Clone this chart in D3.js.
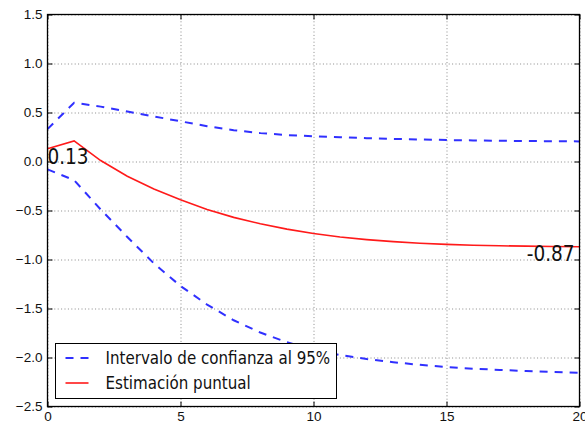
<!DOCTYPE html>
<meta charset="utf-8">
<style>
body{ margin: 0; background: #fff; }
svg{ display: block; font-family: "DejaVu Sans Condensed", "DejaVu Sans", sans-serif; font-stretch: condensed; }
.grid line{ stroke: #8a8a8a; stroke-width: 1; stroke-dasharray: 1,2.4; }
.grid path{ display: none; }
.ax path{ display: none; }
.ax line{ stroke: #000; }
.ax text{ font-size: 13.5px; fill: #111; }
</style>
<body>
<div id="chart"></div>
<script src="https://cdn.jsdelivr.net/npm/d3@7"></script>
<script>

// horizon (periods) and the three series
var steps = [0, 1, 2, 3, 4, 5, 6, 7, 8, 9, 10, 11, 12, 13, 14, 15, 16, 17, 18, 19, 20]
var upper = [0.33, 0.60, 0.56, 0.51, 0.46, 0.41, 0.36, 0.32, 0.29, 0.27, 0.257, 0.247, 0.238, 0.231, 0.225, 0.219, 0.215, 0.212, 0.209, 0.207, 0.205]
var estimate = [0.13, 0.21, 0.01, -0.15, -0.28, -0.39, -0.49, -0.57, -0.635, -0.69, -0.735, -0.77, -0.797, -0.818, -0.834, -0.846, -0.854, -0.86, -0.864, -0.867, -0.87]
var lower = [-0.08, -0.19, -0.49, -0.77, -1.04, -1.27, -1.46, -1.62, -1.745, -1.845, -1.92, -1.975, -2.015, -2.048, -2.075, -2.097, -2.114, -2.127, -2.138, -2.147, -2.155]

var xTicks = [0, 5, 10, 15, 20]
var yTicks = [-2.5, -2.0, -1.5, -1.0, -0.5, 0.0, 0.5, 1.0, 1.5]
var labels = ['Intervalo de confianza al 95%', 'Estimación puntual']

var W = 585, H = 428
var margin = {left: 47.5, top: 14.5, right: 5.5, bottom: 21.5}
var width = W - margin.left - margin.right
var height = H - margin.top - margin.bottom

var svg = d3.select('#chart').append('svg')
    .attr('width', W).attr('height', H)

var g = svg.append('g')
    .attr('transform', 'translate(' + margin.left + ',' + margin.top + ')')

var x = d3.scaleLinear().domain([0, 20]).range([0, width])
var y = d3.scaleLinear().domain([-2.5, 1.5]).range([height, 0])

// dotted grid
g.append('g').attr('class', 'grid')
    .attr('transform', 'translate(0,' + height + ')')
    .call(d3.axisBottom(x).tickValues(xTicks).tickSize(-height).tickFormat(''))
g.append('g').attr('class', 'grid')
    .call(d3.axisLeft(y).tickValues(yTicks).tickSize(-width).tickFormat(''))

// lines
var line = function(vals){
  return d3.line().x(function(d, i){ return x(steps[i]) }).y(function(d){ return y(d) })(vals)
}

g.append('path').attr('d', line(upper))
    .attr('fill', 'none').attr('stroke', '#3030ff').attr('stroke-width', 2)
    .attr('stroke-dasharray', '8,7')
g.append('path').attr('d', line(lower))
    .attr('fill', 'none').attr('stroke', '#3030ff').attr('stroke-width', 2)
    .attr('stroke-dasharray', '8,7')
g.append('path').attr('d', line(estimate))
    .attr('fill', 'none').attr('stroke', '#ff1a1a').attr('stroke-width', 1.6)

// value annotations at first and last step
g.append('text')
    .attr('x', x(steps[0]))
    .attr('y', y(estimate[0]) + 15)
    .style('font-size', '20.5px').style('fill', '#111')
    .text(d3.format('.2f')(estimate[0]))
g.append('text')
    .attr('x', x(steps[20]) - 5)
    .attr('y', y(estimate[20]) + 14)
    .attr('text-anchor', 'end')
    .style('font-size', '20.5px').style('fill', '#111')
    .text('-' + d3.format('.2f')(-estimate[20]))

// axes, ticks pointing inward on all four sides
var fmt = d3.format('.1f')
g.append('g').attr('class', 'ax')
    .attr('transform', 'translate(0,' + height + ')')
    .call(d3.axisBottom(x).tickValues(xTicks).tickSize(-5).tickPadding(5).tickFormat(d3.format('d')))
g.append('g').attr('class', 'ax')
    .call(d3.axisLeft(y).tickValues(yTicks).tickSize(-5).tickPadding(5).tickFormat(fmt))
g.append('g').attr('class', 'ax')
    .call(d3.axisTop(x).tickValues(xTicks).tickSize(-5).tickFormat(''))
g.append('g').attr('class', 'ax')
    .attr('transform', 'translate(' + width + ',0)')
    .call(d3.axisRight(y).tickValues(yTicks).tickSize(-5).tickFormat(''))

g.append('rect')
    .attr('width', width).attr('height', height)
    .attr('fill', 'none').attr('stroke', '#000').attr('stroke-width', 1.3)

// legend
var lg = svg.append('g').attr('transform', 'translate(55.5,343.5)')
lg.append('rect').attr('width', 281).attr('height', 55)
    .attr('fill', '#fff').attr('stroke', '#000')
var items = lg.selectAll('.item').data(labels).enter().append('g')
    .attr('transform', function(d, i){ return 'translate(0,' + (14.5 + i * 25) + ')' })
items.append('line')
    .attr('x1', 10).attr('x2', 33)
    .attr('stroke', function(d, i){ return i == 0 ? '#3030ff' : '#ff1a1a' })
    .attr('stroke-width', function(d, i){ return i == 0 ? 2 : 1.6 })
    .attr('stroke-dasharray', function(d, i){ return i == 0 ? '8,7' : null })
items.append('text')
    .attr('x', 50).attr('y', 6)
    .style('font-size', '16.8px').style('fill', '#111')
    .text(function(d){ return d })

</script>
